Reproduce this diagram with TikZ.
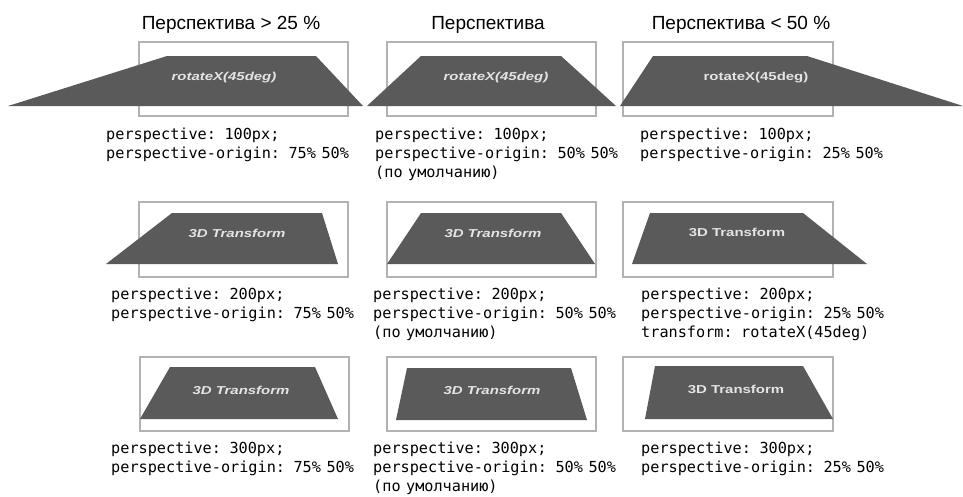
\documentclass[tikz,border=0pt]{standalone}
\usepackage{fontspec}
\setmainfont{Liberation Sans}
\newfontfamily\codefont[WordSpace=0.6]{DejaVu Sans Mono}
\usepackage{tikz}
\usetikzlibrary{positioning}
\definecolor{framegray}{RGB}{178,178,178}
\definecolor{planegray}{RGB}{90,90,90}
\definecolor{planetext}{RGB}{228,228,228}
\tikzset{
  framebox/.style={draw=framegray, line width=1.4pt},
  planeshape/.style={fill=planegray},
  headlabel/.style={font=\fontsize{19}{22}\selectfont, anchor=base, inner sep=0pt},
  codelabel/.style={font=\codefont\fontsize{15.2}{19}\selectfont,
    align=left, anchor=base west, inner sep=0pt},
  planelabel/.style={text=planetext, font=\fontsize{11.5}{13}\selectfont\bfseries,
    inner sep=0pt},
  slanted/.style={font=\fontsize{11.5}{13}\selectfont\bfseries\itshape}
}

\begin{document}
\begin{tikzpicture}[x=1pt, y=-1pt]
  \useasboundingbox[fill=white] (0,0) rectangle (963,496);

  % column heads
  \node[headlabel] (h1) at (231,29) {Перспектива > 25 \%};
  \node[headlabel] (h2) at (488,29) {Перспектива};
  \node[headlabel] (h3) at (741,29) {Перспектива < 50 \%};

  % frames
  \draw[framebox] (139,42) rectangle (348,116);
  \draw[framebox] (387,42) rectangle (596,116);
  \draw[framebox] (623,42) rectangle (833,116);
  \draw[framebox] (139,202) rectangle (348,277);
  \draw[framebox] (387,202) rectangle (596,277);
  \draw[framebox] (623,202) rectangle (833,277);
  \draw[framebox] (140,357) rectangle (349,431);
  \draw[framebox] (387,357) rectangle (596,431);
  \draw[framebox] (623,357) rectangle (833,431);

  % rotated planes
  \fill[planeshape] (8,106) -- (167,56) -- (316,56) -- (363,106) -- cycle;
  \fill[planeshape] (367,106) -- (421,56) -- (561,56) -- (616,106) -- cycle;
  \fill[planeshape] (620,106) -- (653,56) -- (807,56) -- (963,106) -- cycle;
  \fill[planeshape] (106,264) -- (172,213) -- (322,213) -- (338,264) -- cycle;
  \fill[planeshape] (387,264) -- (421,213) -- (561,213) -- (595,264) -- cycle;
  \fill[planeshape] (632,264) -- (650,213) -- (803,213) -- (867,264) -- cycle;
  \fill[planeshape] (140,419) -- (170,367) -- (315,367) -- (338,419) -- cycle;
  \fill[planeshape] (396,420) -- (407,368) -- (571,368) -- (587,420) -- cycle;
  \fill[planeshape] (645,419) -- (655,366) -- (803,366) -- (833,419) -- cycle;

  % plane labels
  \node[planelabel, slanted] (p11) at (224,78) {\scalebox{1.3}[1]{rotateX(45deg)}};
  \node[planelabel, slanted] (p12) at (496,78) {\scalebox{1.3}[1]{rotateX(45deg)}};
  \node[planelabel] (p13) at (756,78) {\scalebox{1.3}[1]{rotateX(45deg)}};
  \node[planelabel, slanted] (p21) at (237,233) {\scalebox{1.3}[1]{3D Transform}};
  \node[planelabel, slanted] (p22) at (493,233) {\scalebox{1.3}[1]{3D Transform}};
  \node[planelabel] (p23) at (737,232) {\scalebox{1.3}[1]{3D Transform}};
  \node[planelabel, slanted] (p31) at (241,390) {\scalebox{1.3}[1]{3D Transform}};
  \node[planelabel, slanted] (p32) at (492,390) {\scalebox{1.3}[1]{3D Transform}};
  \node[planelabel] (p33) at (736,389) {\scalebox{1.3}[1]{3D Transform}};

  % css settings (anchored at the last line)
  \node[codelabel] (c11) at (106,158)
    {perspective: 100px;\\perspective-origin: 75\% 50\%};
  \node[codelabel] (c12) at (375,177)
    {perspective: 100px;\\perspective-origin: 50\% 50\%\\(по умолчанию)};
  \node[codelabel] (c13) at (640,158)
    {perspective: 100px;\\perspective-origin: 25\% 50\%};
  \node[codelabel] (c21) at (111,318)
    {perspective: 200px;\\perspective-origin: 75\% 50\%};
  \node[codelabel] (c22) at (373,337)
    {perspective: 200px;\\perspective-origin: 50\% 50\%\\(по умолчанию)};
  \node[codelabel] (c23) at (641,337)
    {perspective: 200px;\\perspective-origin: 25\% 50\%\\transform: rotateX(45deg)};
  \node[codelabel] (c31) at (111,472)
    {perspective: 300px;\\perspective-origin: 75\% 50\%};
  \node[codelabel] (c32) at (373,491)
    {perspective: 300px;\\perspective-origin: 50\% 50\%\\(по умолчанию)};
  \node[codelabel] (c33) at (641,472)
    {perspective: 300px;\\perspective-origin: 25\% 50\%};
\end{tikzpicture}
\end{document}
